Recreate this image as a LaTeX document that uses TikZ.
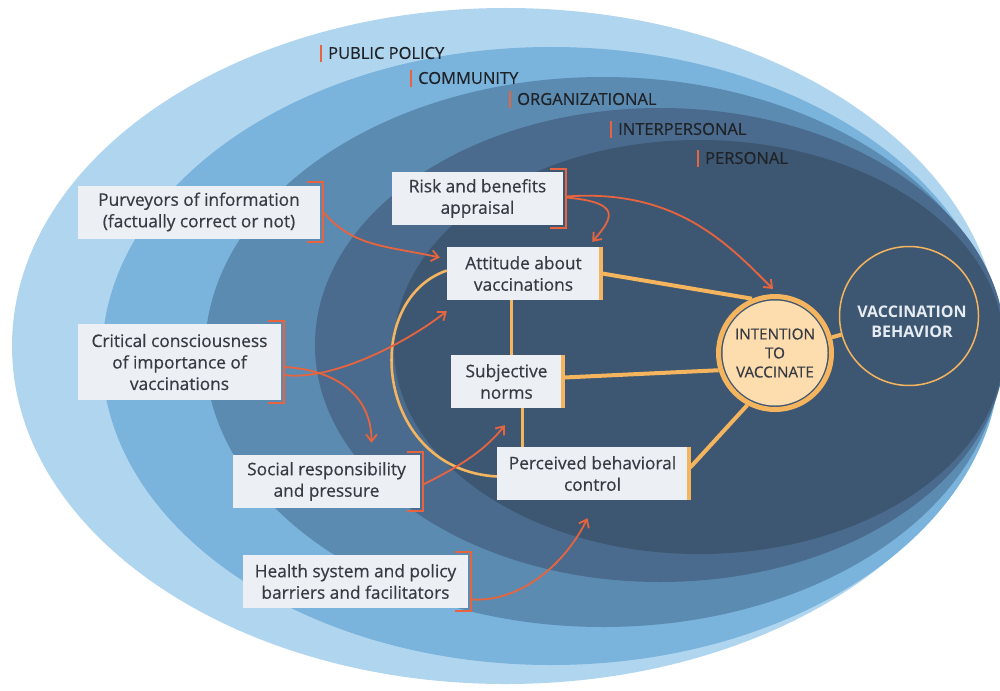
\documentclass[tikz,border=0pt]{standalone}
\usepackage{fontspec}
\setmainfont{Open Sans}
\newfontfamily\boxfont[FakeBold=0.5]{Open Sans}
\usepackage{xcolor}
\usetikzlibrary{arrows.meta}
\definecolor{bandone}{HTML}{B0D5EF}
\definecolor{bandtwo}{HTML}{7AB3DC}
\definecolor{bandthree}{HTML}{5B8BB1}
\definecolor{bandfour}{HTML}{4A6B8D}
\definecolor{bandfive}{HTML}{3D5772}
\definecolor{boxgray}{HTML}{ECF0F4}
\definecolor{boxtext}{HTML}{363B44}
\definecolor{leveltext}{HTML}{1F2328}
\definecolor{cuered}{HTML}{E8643F}
\definecolor{tpborange}{HTML}{F5B45E}
\definecolor{peach}{HTML}{FDDCAE}
\definecolor{vbtext}{HTML}{E6ECF2}
\newcommand{\sidebrace}[1]{\draw[brace] ([xshift=-13pt,yshift=3pt]#1.north east) -| ([xshift=3pt,yshift=-3pt]#1.south east) -- ++(-16pt,0pt);}
\newcommand{\tpbbar}[1]{\draw[tpbbar] ([xshift=1pt]#1.north east) -- ([xshift=1pt]#1.south east);}

\begin{document}
\begin{tikzpicture}[
    x=1pt, y=-1pt,
    >={Straight Barb[length=7pt,width=11pt]},
    factor/.style={fill=boxgray, text=boxtext, inner sep=0pt, align=center, minimum height=53pt, font=\boxfont\fontsize{17.3}{21.5}\selectfont},
    level/.style={anchor=west, inner sep=0pt, text=leveltext, font=\boxfont\fontsize{16.5}{18}\selectfont},
    levelbar/.style={draw=cuered, line width=1.6pt},
    brace/.style={draw=cuered, line width=2.2pt},
    tpbbar/.style={draw=tpborange, line width=4pt},
    cue/.style={->, draw=cuered, line width=1.8pt},
    tie/.style={draw=tpborange, line width=4pt},
    link/.style={draw=tpborange, line width=2.4pt},
    intent/.style={circle, draw=tpborange, line width=5pt, fill=bandfive, minimum size=113pt, inner sep=0pt, align=center, text=boxtext, font=\boxfont\fontsize{15.2}{19}\selectfont,
        path picture={\fill[peach] (path picture bounding box.center) circle[radius=52.5pt];}},
    behavior/.style={circle, draw=tpborange, line width=1.5pt, minimum size=139pt, inner sep=0pt},
    behaviortext/.style={inner sep=0pt, align=center, text=vbtext, font=\bfseries\fontsize{16}{20}\selectfont}
]
\useasboundingbox (0,0) rectangle (1000,690);
\fill[white] (0,0) rectangle (1000,690);
% nested levels
\begin{scope}
\clip (0,0) rectangle (1000,690);
\fill[bandone] (506,346) ellipse [x radius=494, y radius=338];
\fill[bandtwo] (551,356) ellipse [x radius=449, y radius=309];
\fill[bandthree] (603,352) ellipse [x radius=398, y radius=275];
\fill[bandfour] (660,345) ellipse [x radius=345, y radius=237];
\fill[bandfive] (699,347) ellipse [x radius=305, y radius=207];
\end{scope}
\node[level] (lpolicy) at (328,53) {PUBLIC POLICY};
\node[level] (lcommunity) at (418,78) {COMMUNITY};
\node[level] (lorg) at (517,99) {ORGANIZATIONAL};
\node[level] (linter) at (618,129) {INTERPERSONAL};
\node[level] (lpersonal) at (705,158) {PERSONAL};
\draw[levelbar] ([xshift=-7pt,yshift=8pt]lpolicy.west) -- ([xshift=-7pt,yshift=-9pt]lpolicy.west);
\draw[levelbar] ([xshift=-7pt,yshift=8pt]lcommunity.west) -- ([xshift=-7pt,yshift=-9pt]lcommunity.west);
\draw[levelbar] ([xshift=-7pt,yshift=8pt]lorg.west) -- ([xshift=-7pt,yshift=-9pt]lorg.west);
\draw[levelbar] ([xshift=-7pt,yshift=8pt]linter.west) -- ([xshift=-7pt,yshift=-9pt]linter.west);
\draw[levelbar] ([xshift=-7pt,yshift=8pt]lpersonal.west) -- ([xshift=-7pt,yshift=-9pt]lpersonal.west);
% factors
\node[factor, minimum width=242pt] (purv) at (199,212) {Purveyors of information\\(factually correct or not)};
\node[factor, minimum width=203pt, minimum height=76pt] (crit) at (179.5,362) {Critical consciousness\\of importance of\\vaccinations};
\node[factor, minimum width=187pt] (soc) at (326.5,481.5) {Social responsibility\\and pressure};
\node[factor, minimum width=225pt] (health) at (355.5,581.5) {Health system and policy\\barriers and facilitators};
\node[factor, minimum width=171pt] (risk) at (477.5,198.5) {Risk and benefits\\appraisal};
% theory of planned behavior
\node[factor, minimum width=153pt] (att) at (523.5,273.5) {Attitude about\\vaccinations};
\node[factor, minimum width=111pt] (subj) at (506.5,381.5) {Subjective\\norms};
\node[factor, minimum width=191pt] (perc) at (592.5,473.5) {Perceived behavioral\\control};
\node[intent] (intent) at (775,353) {INTENTION\\TO\\VACCINATE};
\node[behavior] (vb) at (909,316) {};
\node[behaviortext] (vbtext) at ([xshift=3pt,yshift=-6pt]vb.center) {VACCINATION\\BEHAVIOR};
\draw[tie] ([xshift=2pt]att.east) -- (intent.113);
\draw[tie] ([xshift=2pt,yshift=4pt]subj.east) -- (intent.197);
\draw[tie] ([xshift=2pt,yshift=6pt]perc.east) -- (intent.242);
\draw[tie] (intent) -- (vb);
\draw[link] ([xshift=-12pt]att.south) -- ([xshift=-12pt]att.south |- subj.north);
\draw[link] ([xshift=16pt]subj.south) -- ([xshift=16pt]subj.south |- perc.north);
\draw[link, line width=2.6pt] ([yshift=3pt]att.west) .. controls +(-87,30) and +(-122,-7) .. ([yshift=-3pt]perc.west);
\tpbbar{att}
\tpbbar{subj}
\tpbbar{perc}
\sidebrace{purv}
\sidebrace{crit}
\sidebrace{soc}
\sidebrace{health}
\sidebrace{risk}
% influences
\draw[cue] ([xshift=3pt]purv.east) .. controls +(30,35) and +(-55,-12) .. ([xshift=-7pt,yshift=16pt]att.west);
\draw[cue] ([xshift=3pt,yshift=1pt]risk.east) .. controls +(55,5) and +(22,-25) .. ([xshift=-8pt,yshift=5pt]att.north east);
\draw[cue] ([xshift=3pt,yshift=2pt]risk.east) .. controls +(110,-8) and +(-45,-45) .. ([xshift=-2pt,yshift=5pt]intent.north);
\draw[cue] ([xshift=3pt,yshift=-13pt]crit.east) .. controls +(45,6) and +(-45,35) .. ([yshift=-11pt]att.south west);
\draw[cue] ([xshift=3pt,yshift=-5pt]crit.east) .. controls +(55,3) and +(0,-45) .. ([xshift=45pt,yshift=12pt]soc.north);
\draw[cue] ([xshift=3pt,yshift=-3pt]soc.east) .. controls +(30,-15) and +(-22,28) .. ([xshift=54pt,yshift=-17pt]subj.south west);
\draw[cue] ([xshift=3pt,yshift=-18pt]health.east) .. controls +(50,3) and +(-22,45) .. ([xshift=-5pt,yshift=-18pt]perc.south);
\end{tikzpicture}
\end{document}
